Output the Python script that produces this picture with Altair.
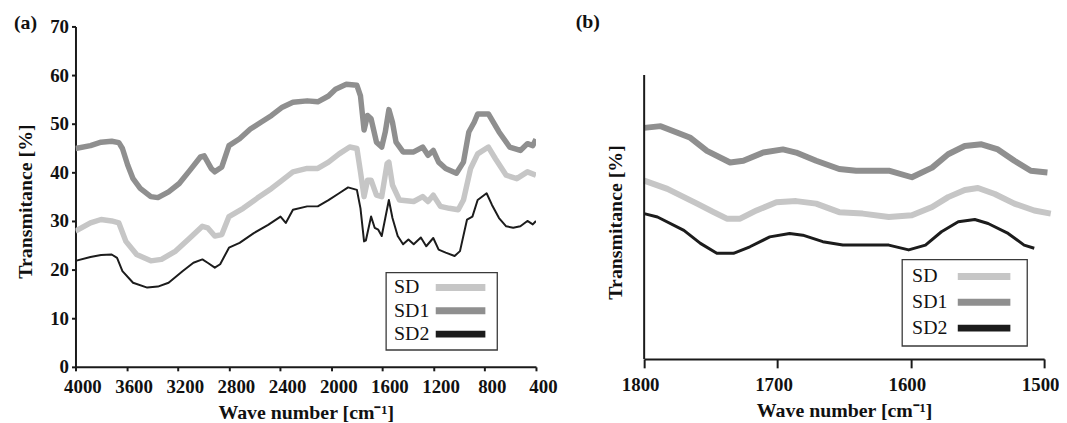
import altair as alt
import pandas as pd

names = ["SD", "SD1", "SD2"]
colors = ["#c6c6c6", "#8f8f8f", "#1c1c1c"]

# ---------- panel (a) ----------
a_sd1_x = [4000, 3883, 3800, 3717, 3661, 3633, 3592, 3550, 3494, 3411, 3356, 3272, 3189, 3106, 3022, 2994,
           2939, 2911, 2856, 2800, 2717, 2633, 2550, 2467, 2383, 2300, 2189, 2106, 2022, 1967, 1883, 1800,
           1772, 1744, 1717, 1689, 1647, 1606, 1578, 1550, 1522, 1494, 1439, 1356, 1286, 1244, 1203, 1161,
           1106, 1022, 967, 925, 883, 856, 772, 689, 606, 522, 467, 425, 400]
a_sd1_y = [44.9, 45.5, 46.2, 46.4, 46.1, 44.9, 41.5, 38.7, 36.7, 35.0, 34.8, 36.0, 37.7, 40.4, 43.2, 43.4,
           40.8, 40.1, 41.1, 45.5, 46.9, 48.9, 50.3, 51.7, 53.4, 54.4, 54.7, 54.5, 55.7, 57.1, 58.1, 57.9,
           55.7, 48.7, 51.7, 51.0, 46.2, 45.2, 48.3, 52.9, 50.3, 46.2, 44.2, 44.2, 45.2, 43.5, 44.5, 42.1,
           40.8, 39.8, 42.1, 48.3, 50.3, 52.0, 52.0, 48.3, 45.2, 44.5, 45.9, 45.5, 46.8]

a_sd_x = [4000, 3883, 3800, 3717, 3661, 3606, 3522, 3411, 3328, 3217, 3106, 3008, 2967, 2911, 2856, 2800,
          2689, 2578, 2467, 2383, 2300, 2189, 2106, 2022, 1939, 1856, 1800, 1772, 1744, 1717, 1689, 1647,
          1606, 1564, 1550, 1522, 1467, 1356, 1286, 1244, 1203, 1147, 1078, 1008, 967, 911, 856, 772,
          717, 633, 550, 467, 400]
a_sd_y = [27.9, 29.6, 30.3, 30.0, 29.6, 25.8, 23.1, 21.8, 22.1, 23.8, 26.5, 28.9, 28.6, 26.9, 27.2, 30.9,
          32.6, 34.7, 36.7, 38.4, 40.1, 40.8, 40.8, 42.1, 43.8, 45.2, 44.9, 40.1, 35.0, 38.4, 38.4, 35.3,
          35.0, 41.8, 42.1, 37.4, 34.3, 34.0, 35.0, 34.0, 35.3, 33.0, 32.6, 32.3, 34.3, 40.8, 43.8, 45.2,
          42.8, 39.4, 38.7, 40.1, 39.4]

a_sd2_x = [4000, 3883, 3800, 3717, 3675, 3633, 3550, 3439, 3356, 3272, 3161, 3078, 3008, 2967, 2911, 2869,
           2800, 2717, 2606, 2494, 2397, 2356, 2300, 2189, 2106, 2022, 1939, 1869, 1800, 1772, 1744, 1730,
           1689, 1661, 1633, 1606, 1578, 1550, 1522, 1481, 1439, 1397, 1356, 1300, 1258, 1203, 1161, 1106,
           1036, 994, 939, 897, 856, 786, 744, 689, 633, 578, 522, 467, 425, 400]
a_sd2_y = [21.8, 22.6, 23.0, 23.1, 22.4, 19.7, 17.3, 16.3, 16.5, 17.3, 19.7, 21.4, 22.1, 21.4, 20.4, 21.1,
           24.5, 25.5, 27.5, 29.2, 30.9, 29.6, 32.3, 33.0, 33.0, 34.3, 35.7, 36.9, 36.4, 32.6, 25.8, 26.0,
           30.9, 28.6, 28.2, 26.9, 30.6, 34.3, 30.6, 26.9, 25.2, 26.2, 25.2, 26.6, 24.8, 26.5, 24.1, 23.5,
           22.8, 23.8, 30.3, 30.9, 34.3, 35.7, 33.3, 30.6, 28.9, 28.6, 28.9, 30.0, 29.3, 30.0]

a_x_ticks = [4000, 3600, 3200, 2800, 2400, 2000, 1600, 1200, 800, 400]
a_y_ticks = [0, 10, 20, 30, 40, 50, 60, 70]

# ---------- panel (b) (relative transmittance, no y scale shown) ----------
b_sd1_x = [1800, 1787.6, 1765.3, 1752.9, 1735.5, 1725.6, 1710.7, 1695.9, 1686, 1671, 1653.7, 1641,
           1616.5, 1599.2, 1584, 1572, 1559.5, 1547, 1534.7, 1522.3, 1510, 1497.5]
b_sd1_y = [81.4, 82.0, 77.9, 73.3, 69.2, 69.8, 72.7, 73.8, 72.7, 69.8, 66.9, 66.3,
           66.3, 64.0, 67.4, 72.1, 75.0, 75.6, 73.8, 69.8, 66.3, 65.7]

b_sd_x = [1800, 1782.6, 1760.3, 1747.9, 1738, 1728, 1715.7, 1700.8, 1686, 1671, 1653.7, 1636,
          1616.5, 1599.2, 1584, 1572, 1559.5, 1549.6, 1537, 1522.3, 1507.4, 1495]
b_sd_y = [62.8, 59.9, 54.7, 51.7, 49.4, 49.4, 52.3, 55.2, 55.6, 54.7, 51.7, 51.2,
          50.0, 50.6, 53.5, 57.0, 59.5, 60.2, 58.1, 54.7, 52.3, 51.2]

b_sd2_x = [1800, 1790, 1770.2, 1757.8, 1745.5, 1733, 1720.7, 1705.8, 1690.9, 1681, 1666, 1651, 1641,
           1616.5, 1601.6, 1589, 1577, 1564.4, 1552, 1542, 1527, 1515, 1507.4]
b_sd2_y = [51.2, 50.0, 45.3, 40.7, 37.2, 37.2, 39.5, 43.0, 44.2, 43.6, 41.3, 40.1, 40.1,
           40.1, 38.4, 40.1, 44.8, 48.3, 49.1, 47.7, 44.2, 40.1, 39.0]

b_x_ticks = [1800, 1700, 1600, 1500]

FONT = "Liberation Serif"
AX = "#1a1a1a"
W_A, H = 464, 343
W_B = 403


def series(xs, ys, name):
    return pd.DataFrame({"wn": xs, "t": ys, "s": name})


df_a = pd.concat([series(a_sd_x, a_sd_y, "SD"), series(a_sd1_x, a_sd1_y, "SD1"),
                  series(a_sd2_x, a_sd2_y, "SD2")])
df_b = pd.concat([series(b_sd_x, b_sd_y, "SD"), series(b_sd1_x, b_sd1_y, "SD1"),
                  series(b_sd2_x, b_sd2_y, "SD2")])
df_leg = pd.DataFrame({"s": names})
one = pd.DataFrame({"t": ["(a)"]})
one_b = pd.DataFrame({"t": ["(b)"]})

color = alt.Color("s:N", scale=alt.Scale(domain=names, range=colors), legend=None)


def lines(df, xenc, yenc, thick, thin, clip):
    base = alt.Chart(df).encode(x=xenc, y=yenc, color=color)
    t1 = base.transform_filter(alt.FieldOneOfPredicate(field="s", oneOf=["SD", "SD1"])).mark_line(
        strokeWidth=thick, strokeCap="butt", strokeJoin="round", clip=clip)
    t2 = base.transform_filter(alt.FieldEqualPredicate(field="s", equal="SD2")).mark_line(
        strokeWidth=thin, strokeCap="butt", strokeJoin="round", clip=clip)
    return alt.layer(t1, t2)


def legend_layers(bx, by, bw, bh, lx, sx1, sx2, ry1, ry2):
    box = alt.Chart(one).mark_rect(fill="white", stroke="#3a3a3a", strokeWidth=1.3).encode(
        x=alt.value(bx), x2=alt.value(bx + bw), y=alt.value(by), y2=alt.value(by + bh))
    ypos = alt.Y("s:N", scale=alt.Scale(type="point", domain=names, range=[ry1, ry2], padding=0),
                 axis=None)
    txt = alt.Chart(df_leg).mark_text(font=FONT, fontSize=20, align="left", baseline="middle",
                                      color="#111").encode(x=alt.value(lx), y=ypos, text="s:N")
    sw = alt.Chart(df_leg).mark_rule(strokeWidth=7, strokeCap="butt").encode(
        x=alt.value(sx1), x2=alt.value(sx2), y=ypos, color=color)
    return box, alt.layer(txt, sw)


# ---- panel (a)
xa = alt.X("wn:Q", scale=alt.Scale(domain=[400, 4000], reverse=True, nice=False, zero=False),
           axis=alt.Axis(values=a_x_ticks, format="d", title="Wave number [cm⁻¹]", labelOverlap=False,
                         labelFlush=False, labelOffset=7, tickSize=4, labelPadding=7, titlePadding=6))
ya = alt.Y("t:Q", scale=alt.Scale(domain=[0, 70], nice=False),
           axis=alt.Axis(values=a_y_ticks, title="Transmitance [%]", tickSize=4, labelFlush=False,
                         labelPadding=3, titlePadding=14, titleY=176))
a_text = alt.Chart(one).mark_text(font=FONT, fontSize=20, fontWeight="bold", align="left",
                                  baseline="middle", color="#111").encode(
    x=alt.value(-62), y=alt.value(-3), text="t:N")
box_a, leg_a = legend_layers(313, 248, 112, 78, 321, 363, 413, 263, 310)
panel_a = alt.layer(
    lines(df_a, xa, ya, 5.5, 2, True), box_a, leg_a, a_text,
).resolve_scale(y="independent").properties(width=W_A, height=H)

# ---- panel (b): plot height equal to (a); axis line drawn from 77 px to 363 px of page
xb = alt.X("wn:Q", scale=alt.Scale(domain=[1500, 1800], reverse=True, nice=False, zero=False),
           axis=alt.Axis(values=b_x_ticks, format="d", title="Wave number [cm⁻¹]", labelOverlap=False,
                         labelFlush=False, labelOffset={"expr": "-4"}, tickSize=9, labelPadding=8,
                         titlePadding=6, offset=-8))
yb = alt.Y("t:Q", scale=alt.Scale(domain=[-2.8, 117.13], nice=False, zero=False),
           axis=alt.Axis(title="Transmitance [%]", domain=False, ticks=False, labels=False,
                         titlePadding=19, titleY=197))
b_axis = alt.Chart(one_b).mark_rule(color=AX, strokeWidth=2).encode(
    x=alt.value(0), y=alt.value(49), y2=alt.value(335))
b_text = alt.Chart(one_b).mark_text(font=FONT, fontSize=20, fontWeight="bold", align="left",
                                    baseline="middle", color="#111").encode(
    x=alt.value(-69), y=alt.value(-4), text="t:N")
box_b, leg_b = legend_layers(260, 235, 126, 87, 270, 316, 369, 252, 304)
panel_b = alt.layer(
    lines(df_b, xb, yb, 6, 3, False), b_axis, box_b, leg_b, b_text,
).resolve_scale(y="independent").properties(width=W_B, height=H)

chart = alt.hconcat(panel_a, panel_b, spacing=109, bounds="flush").resolve_scale(
    color="independent"
).properties(
    padding={"left": 6, "top": 3, "right": 0, "bottom": 0}
).configure_view(strokeWidth=0).configure_axis(
    grid=False, domainColor=AX, domainWidth=2, tickColor=AX, tickWidth=2,
    labelFont=FONT, labelFontSize=19, labelFontWeight="bold", labelColor="#111",
    titleFont=FONT, titleFontSize=20, titleFontWeight="bold", titleColor="#111",
)

chart.save("out.html", embed_options={"renderer": "svg", "actions": False})
